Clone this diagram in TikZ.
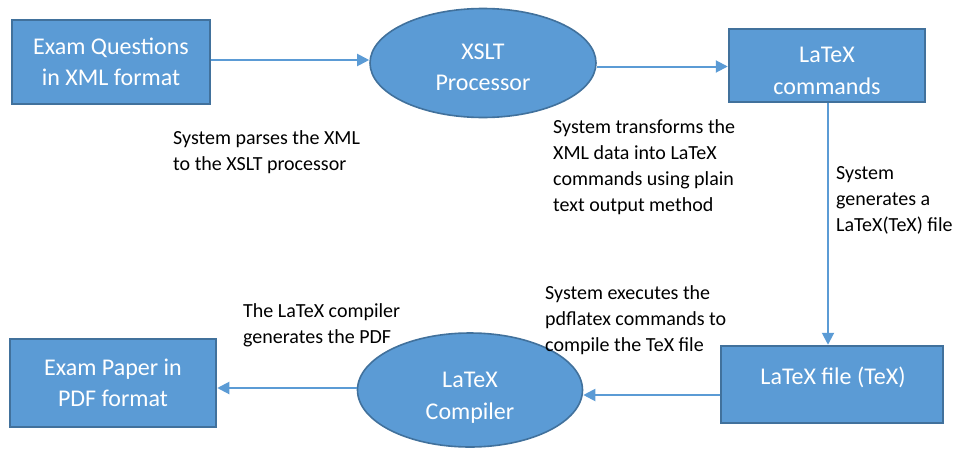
\documentclass[tikz,border=0pt]{standalone}
\usepackage{fontspec}
\setmainfont{Carlito}
\usetikzlibrary{arrows.meta,shapes.geometric}
\definecolor{fillblue}{HTML}{5B9BD5}
\definecolor{edgeblue}{HTML}{41719C}
\begin{document}
\begin{tikzpicture}[x=1pt,y=-1pt,
  boxnode/.style={draw=edgeblue,fill=fillblue,line width=2.5pt,inner sep=0pt,
    text=white,font=\fontsize{24}{31.5}\selectfont,align=center},
  ellnode/.style={ellipse,draw=edgeblue,fill=fillblue,line width=1.6pt,inner sep=0pt},
  wtext/.style={text=white,font=\fontsize{24}{31.5}\selectfont,align=center,inner sep=0pt},
  note/.style={text=black,font=\fontsize{20}{26}\selectfont,align=left,inner sep=0pt,anchor=west},
  flow/.style={draw=fillblue,line width=2pt,-{Triangle[length=12pt,width=12pt]}}]
\useasboundingbox (0,0) rectangle (955,450);

% boxes and ellipses
\node[boxnode,minimum width=198pt,minimum height=84pt] (exq) at (111,62) {Exam Questions\\in XML format};
\node[ellnode,minimum width=226pt,minimum height=109pt] (xslt) at (483,63) {};
\node[wtext] (xsltt) at (483,67.5) {XSLT\\Processor};
\node[boxnode,minimum width=196pt,minimum height=73pt] (cmds) at (827,65.5) {};
\node[wtext] (cmdst) at (827,71) {LaTeX\\commands};
\node[boxnode,minimum width=222pt,minimum height=77pt] (texf) at (832,384.5) {};
\node[wtext] (texft) at (833,377) {LaTeX file (TeX)};
\node[ellnode,minimum width=225pt,minimum height=114pt] (comp) at (470,390) {};
\node[wtext] (compt) at (470,397.5) {LaTeX\\Compiler};
\node[boxnode,minimum width=206pt,minimum height=88pt] (pdf) at (113,383) {Exam Paper in\\PDF format};

% annotations
\node[note] (n1) at (173,152) {System parses the XML\\to the XSLT processor};
\node[note] (n2) at (553,167.5) {System transforms the\\XML data into LaTeX\\commands using plain\\text output method};
\node[note] (n3) at (836,200) {System\\generates a\\LaTeX(TeX) file};
\node[note] (n4) at (545,320) {System executes the\\pdflatex commands to\\compile the TeX file};
\node[note] (n5) at (243,325.5) {The LaTeX compiler\\generates the PDF};

% connectors
\draw[flow] ([yshift=2pt]exq.east) -- ([yshift=3pt]xslt.west);
\draw[flow] ([yshift=-3.5pt]xslt.east) -- ([yshift=-1pt]cmds.west);
\draw[flow] ([xshift=1pt]cmds.south) -- ([xshift=-4pt]texf.north);
\draw[flow] ([yshift=-10.5pt]texf.west) -- ([yshift=-5pt]comp.east);
\draw[flow] ([yshift=2pt]comp.west) -- ([yshift=-5pt]pdf.east);
\end{tikzpicture}
\end{document}
